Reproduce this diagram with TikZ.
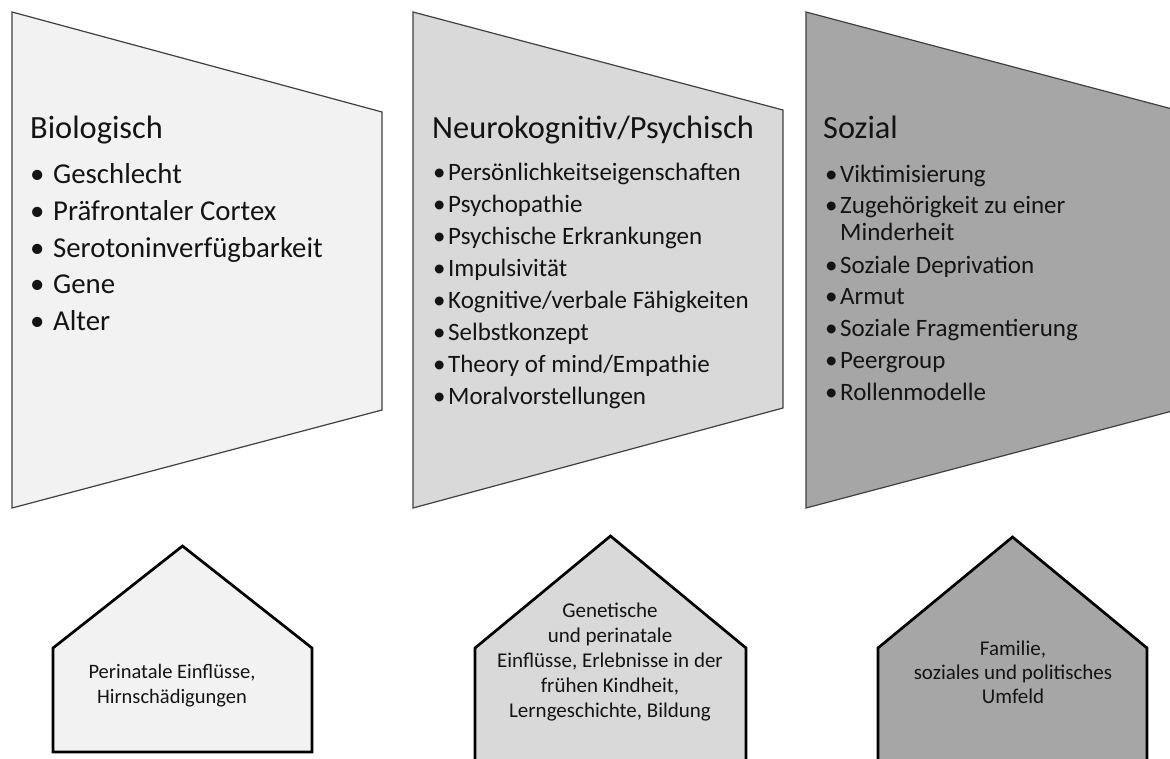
\documentclass[tikz,border=0pt]{standalone}
\usepackage{fontspec}
\setmainfont{Carlito}
\definecolor{fillA}{HTML}{F2F2F2}
\definecolor{fillB}{HTML}{D9D9D9}
\definecolor{fillC}{HTML}{A6A6A6}
\definecolor{edgeG}{HTML}{404040}
\definecolor{txt}{HTML}{141414}
\newcommand{\bl}[2]{\makebox[#1][l]{•}#2}
\begin{document}
\begin{tikzpicture}[x=1pt,y=-1pt,
  panel/.style={draw=edgeG, line width=1.2pt, line join=miter},
  house/.style={draw=black, line width=2.7pt, line join=miter},
  title/.style={anchor=base west, inner sep=0pt, text=txt, font=\fontsize{32.4}{38}\selectfont},
  itemA/.style={anchor=base west, inner sep=0pt, text=txt, font=\fontsize{28.8}{34}\selectfont},
  itemB/.style={anchor=base west, inner sep=0pt, text=txt, font=\fontsize{25}{30}\selectfont},
  hline/.style={anchor=base, inner sep=0pt, text=txt, font=\fontsize{21}{25}\selectfont}]
\useasboundingbox (0,0) rectangle (1170,758);
\clip (0,0) rectangle (1170,758);
\fill[white] (0,0) rectangle (1170,758);

% top panels
\draw[panel, fill=fillA] (12,12) -- (382,112) -- (382,410) -- (12,508) -- cycle;
\draw[panel, fill=fillB] (413,12) -- (783,110) -- (783,408) -- (413,508) -- cycle;
\draw[panel, fill=fillC] (806,12) -- (1176,110) -- (1176,410) -- (806,508) -- cycle;

% houses
\draw[house, fill=fillA] (53,752) -- (53,648) -- (182.5,546) -- (312,648) -- (312,752) -- cycle;
\draw[house, fill=fillB] (475,790) -- (475,648) -- (610.5,536) -- (746,648) -- (746,790) -- cycle;
\draw[house, fill=fillC] (878,790) -- (878,648) -- (1012.5,537) -- (1147,648) -- (1147,790) -- cycle;

% panel 1
\node[title] (t1) at (30,138) {Biologisch};
\node[itemA] (a1) at (30,183) {\bl{23pt}{Geschlecht}};
\node[itemA] (a2) at (30,220) {\bl{23pt}{Präfrontaler Cortex}};
\node[itemA] (a3) at (30,257) {\bl{23pt}{Serotoninverfügbarkeit}};
\node[itemA] (a4) at (30,293) {\bl{23pt}{Gene}};
\node[itemA] (a5) at (30,330) {\bl{23pt}{Alter}};

% panel 2
\node[title] (t2) at (432,138) {Neurokognitiv/Psychisch};
\node[itemB] (b1) at (433,180) {\bl{15pt}{Persönlichkeitseigenschaften}};
\node[itemB] (b2) at (433,212) {\bl{15pt}{Psychopathie}};
\node[itemB] (b3) at (433,244) {\bl{15pt}{Psychische Erkrankungen}};
\node[itemB] (b4) at (433,276) {\bl{15pt}{Impulsivität}};
\node[itemB] (b5) at (433,308) {\bl{15pt}{Kognitive/verbale Fähigkeiten}};
\node[itemB] (b6) at (433,340) {\bl{15pt}{Selbstkonzept}};
\node[itemB] (b7) at (433,372) {\bl{15pt}{Theory of mind/Empathie}};
\node[itemB] (b8) at (433,404) {\bl{15pt}{Moralvorstellungen}};

% panel 3
\node[title] (t3) at (823,138) {Sozial};
\node[itemB] (c1) at (825,182) {\bl{15pt}{Viktimisierung}};
\node[itemB] (c2) at (825,213) {\bl{15pt}{Zugehörigkeit zu einer}};
\node[itemB] (c2b) at (840,240) {Minderheit};
\node[itemB] (c3) at (825,273) {\bl{15pt}{Soziale Deprivation}};
\node[itemB] (c4) at (825,304) {\bl{15pt}{Armut}};
\node[itemB] (c5) at (825,336) {\bl{15pt}{Soziale Fragmentierung}};
\node[itemB] (c6) at (825,368) {\bl{15pt}{Peergroup}};
\node[itemB] (c7) at (825,400) {\bl{15pt}{Rollenmodelle}};

% house 1
\node[hline, font=\fontsize{20.5}{25}\selectfont] (h1a) at (172,678) {Perinatale Einflüsse,};
\node[hline, font=\fontsize{20.5}{25}\selectfont] (h1b) at (172,703) {Hirnschädigungen};

% house 2
\node[hline] (h2a) at (610,617) {Genetische};
\node[hline] (h2b) at (610,642) {und perinatale};
\node[hline] (h2c) at (610,667) {Einflüsse, Erlebnisse in der};
\node[hline] (h2d) at (610,692) {frühen Kindheit,};
\node[hline] (h2e) at (610,717) {Lerngeschichte, Bildung};

% house 3
\node[hline] (h3a) at (1013,655) {Familie,};
\node[hline] (h3b) at (1013,679) {soziales und politisches};
\node[hline] (h3c) at (1013,703) {Umfeld};
\end{tikzpicture}
\end{document}
